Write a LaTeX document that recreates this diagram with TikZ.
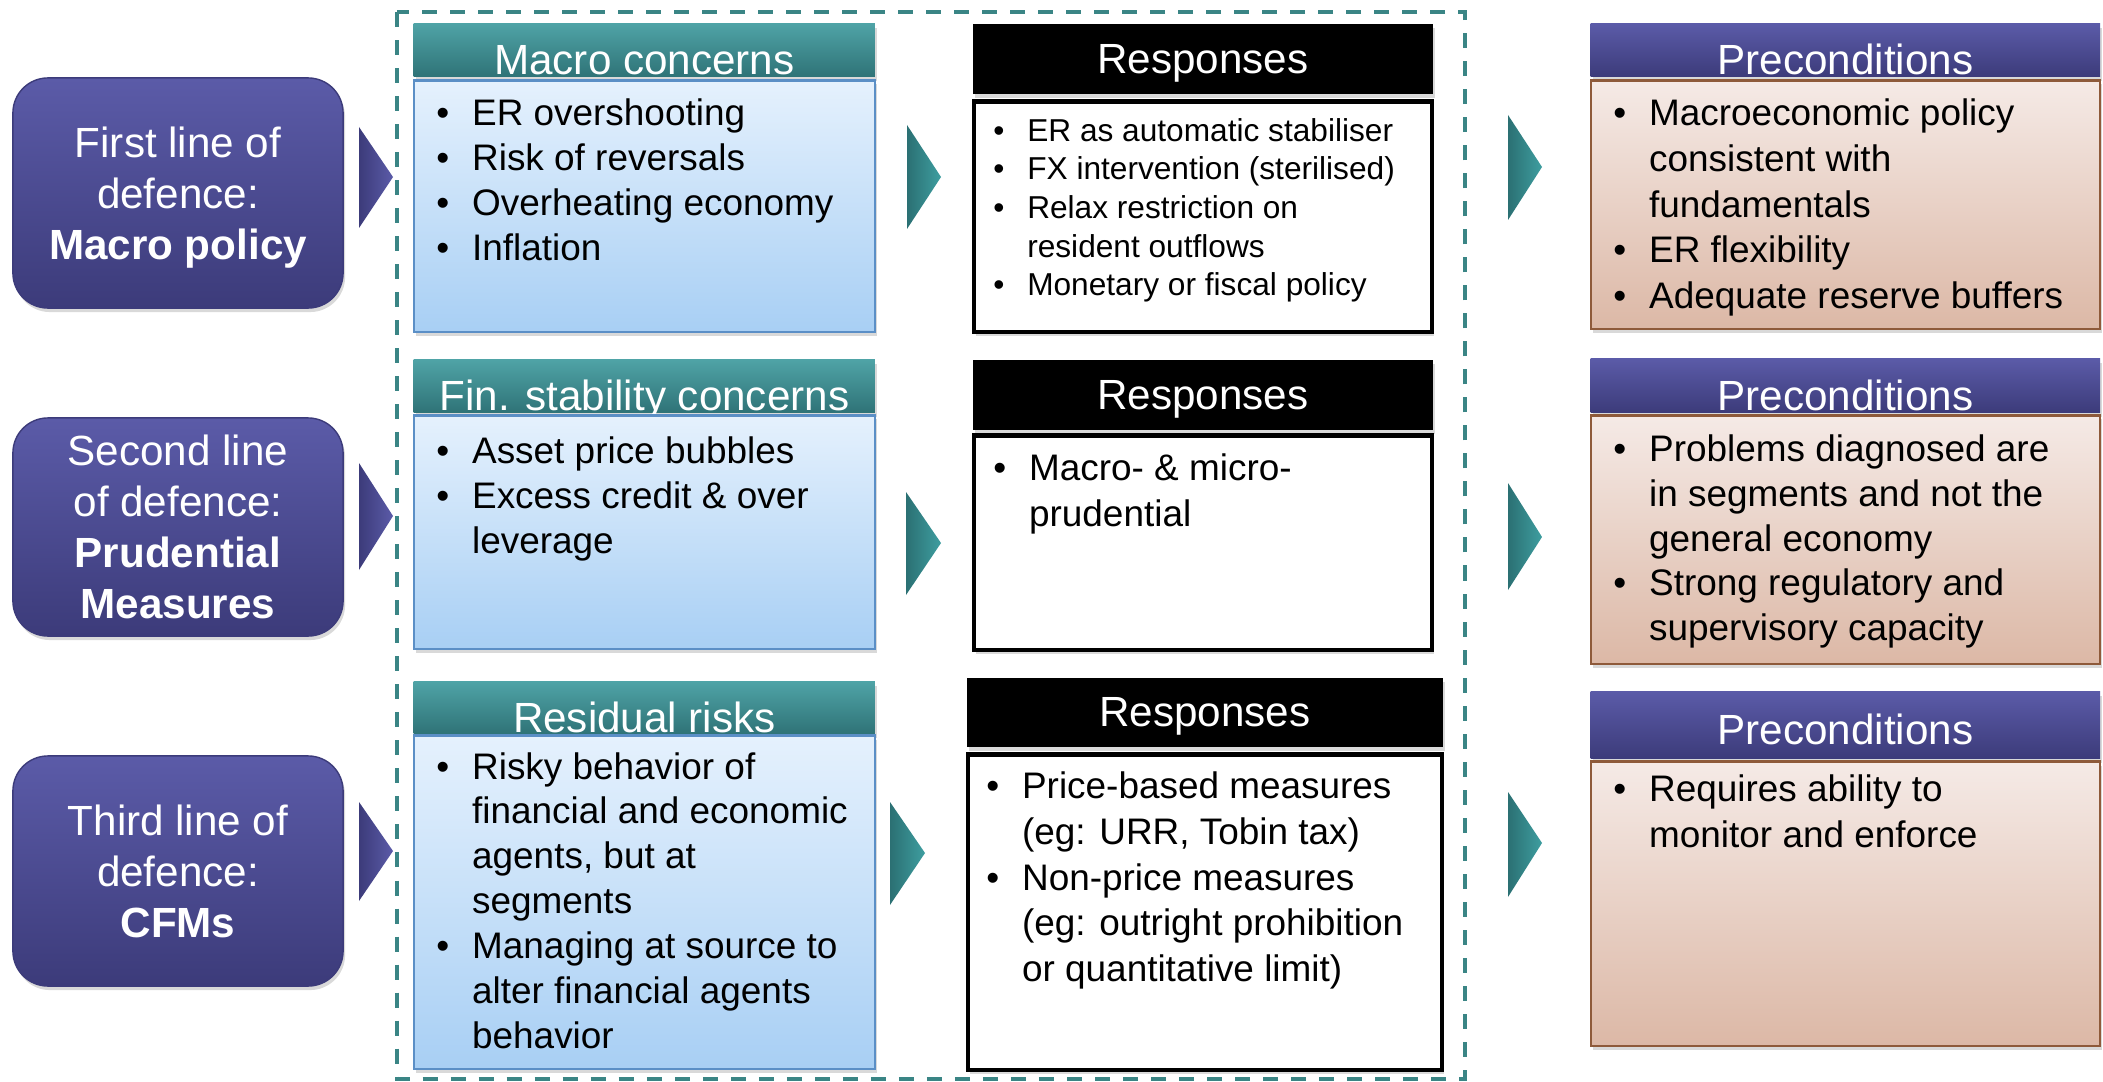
\documentclass[tikz,border=0pt]{standalone}
\usepackage{fontspec}
\setmainfont{Liberation Sans}
\usetikzlibrary{positioning,shadows}
\definecolor{navytop}{HTML}{5B5BA8}
\definecolor{navybot}{HTML}{3C3B7A}
\definecolor{tealtop}{HTML}{4FA3A6}
\definecolor{tealbot}{HTML}{2F7377}
\definecolor{bluetop}{HTML}{E5F1FD}
\definecolor{bluebot}{HTML}{A8CFF4}
\definecolor{blueline}{HTML}{5B8FC6}
\definecolor{rosetop}{HTML}{F5EAE6}
\definecolor{rosebot}{HTML}{DCB8A6}
\definecolor{roseline}{HTML}{8E5A3A}
\definecolor{dashteal}{HTML}{3A8585}
\definecolor{arrowdark}{HTML}{2B7073}
\definecolor{arrowlight}{HTML}{3E9EA0}
\tikzstyle{boxshadow}=[drop shadow={opacity=0.3,shadow xshift=0.02cm,shadow yshift=-0.04cm}]
\tikzstyle{defence}=[rectangle,rounded corners=0.35cm,top color=navytop,bottom color=navybot,draw=navybot,text=white,align=center,minimum width=3.30cm,inner sep=0pt,text depth=0pt,font=\fontsize{12}{14.5}\selectfont,boxshadow]
\tikzstyle{concernhead}=[rectangle,anchor=north west,top color=tealtop,bottom color=tealbot,text=white,minimum width=4.61cm,minimum height=0.53cm,inner sep=0pt,text height=14pt,text depth=0pt,font=\fontsize{12}{14}\selectfont,boxshadow]
\tikzstyle{concernbody}=[rectangle,top color=bluetop,bottom color=bluebot,draw=blueline,semithick,minimum width=4.61cm,inner sep=0pt,boxshadow]
\tikzstyle{resphead}=[rectangle,anchor=north west,fill=black,text=white,minimum width=4.60cm,minimum height=0.70cm,inner sep=0pt,text depth=0pt,font=\fontsize{12}{14}\selectfont,boxshadow]
\tikzstyle{respbody}=[rectangle,fill=white,draw=black,line width=1.2pt,minimum width=4.58cm,inner sep=0pt,boxshadow]
\tikzstyle{precohead}=[rectangle,anchor=north west,top color=navytop,bottom color=navybot,text=white,minimum width=5.09cm,minimum height=0.53cm,inner sep=0pt,text height=14pt,text depth=0pt,font=\fontsize{12}{14}\selectfont,boxshadow]
\tikzstyle{precobody}=[rectangle,top color=rosetop,bottom color=rosebot,draw=roseline,semithick,minimum width=5.09cm,inner sep=0pt,boxshadow]
\tikzstyle{bullets}=[anchor=north west,inner sep=0pt,align=left,font=\fontsize{10.5}{13}\selectfont]
\tikzstyle{chevnavy}=[left color=navybot,right color=navytop]
\tikzstyle{chevteal}=[left color=arrowdark,right color=arrowlight]
\tikzstyle{dashbox}=[draw=dashteal,line width=0.04cm,dash pattern=on 0.15cm off 0.13cm]
\newcommand{\bl}{\textbullet}
\newcommand{\blist}[1]{\begin{tabular}{@{}l@{\hspace{6.5pt}}l@{}}#1\end{tabular}}

\begin{document}
\begin{tikzpicture}[x=0.01cm,y=-0.01cm]
    \useasboundingbox (0,0) rectangle (2103,1082);

    % frame
    \draw[dashbox] (397,12) rectangle (1465,1079);

    % lines of defence
    \node[defence,minimum height=2.30cm] (def1) at (178,193) {First line of\\defence:\\\textbf{Macro policy}};
    \node[defence,minimum height=2.18cm] (def2) at (178,527) {Second line\\of defence:\\\textbf{Prudential}\\\textbf{Measures}};
    \node[defence,minimum height=2.30cm] (def3) at (178,871) {Third line of\\defence:\\\textbf{CFMs}};

    % concerns
    \node[concernhead] (con1) at (413,23) {Macro concerns};
    \node[concernbody,minimum height=2.51cm] (conb1) [below=0.02cm of con1] {};
    \node[concernhead] (con2) at (413,359) {Fin. stability concerns};
    \node[concernbody,minimum height=2.33cm] (conb2) [below=0.01cm of con2] {};
    \node[concernhead,minimum height=0.52cm] (con3) at (413,681) {Residual risks};
    \node[concernbody,minimum height=3.33cm] (conb3) [below=0cm of con3] {};

    % responses
    \node[resphead] (res1) at (972,23) {Responses};
    \node[respbody,minimum height=2.30cm] (resb1) [below=0.05cm of res1] {};
    \node[resphead] (res2) at (972,359) {Responses};
    \node[respbody,minimum height=2.14cm] (resb2) [below=0.03cm of res2] {};
    \node[resphead,minimum width=4.76cm,minimum height=0.69cm] (res3) at (966,677) {Responses};
    \node[respbody,minimum width=4.74cm,minimum height=3.15cm] (resb3) [below=0.05cm of res3] {};

    % preconditions
    \node[precohead] (pre1) at (1590,23) {Preconditions};
    \node[precobody,minimum height=2.48cm] (preb1) [below=0.02cm of pre1] {};
    \node[precohead,minimum height=0.54cm] (pre2) at (1590,358) {Preconditions};
    \node[precobody,minimum height=2.48cm] (preb2) [below=0.01cm of pre2] {};
    \node[precohead,minimum height=0.67cm,text height=11pt] (pre3) at (1590,691) {Preconditions};
    \node[precobody,minimum height=2.84cm] (preb3) [below=0.01cm of pre3] {};

    % texts
    \node[bullets,font=\fontsize{10.5}{12.8}\selectfont] (cont1) at ([xshift=0.23cm,yshift=-0.135cm]conb1.north west) {\blist{\bl & ER overshooting\\ \bl & Risk of reversals\\ \bl & Overheating economy\\ \bl & Inflation}};
    \node[bullets,font=\fontsize{10.5}{12.8}\selectfont] (cont2) at ([xshift=0.23cm,yshift=-0.165cm]conb2.north west) {\blist{\bl & Asset price bubbles\\ \bl & Excess credit \& over\\ & leverage}};
    \node[bullets,font=\fontsize{10.5}{12.75}\selectfont] (cont3) at ([xshift=0.23cm,yshift=-0.125cm]conb3.north west) {\blist{\bl & Risky behavior of\\ & financial and economic\\ & agents, but at\\ & segments\\ \bl & Managing at source to\\ & alter financial agents\\ & behavior}};
    \node[bullets,font=\fontsize{9}{11}\selectfont] (rest1) at ([xshift=0.21cm,yshift=-0.14cm]resb1.north west) {\blist{\bl & ER as automatic stabiliser\\ \bl & FX intervention (sterilised)\\ \bl & Relax restriction on\\ & resident outflows\\ \bl & Monetary or fiscal policy}};
    \node[bullets] (rest2) at ([xshift=0.21cm,yshift=-0.145cm]resb2.north west) {\blist{\bl & Macro- \& micro-\\ & prudential}};
    \node[bullets] (rest3) at ([xshift=0.20cm,yshift=-0.135cm]resb3.north west) {\blist{\bl & Price-based measures\\ & (eg: URR, Tobin tax)\\ \bl & Non-price measures\\ & (eg: outright prohibition\\ & or quantitative limit)}};
    \node[bullets] (pret1) at ([xshift=0.23cm,yshift=-0.135cm]preb1.north west) {\blist{\bl & Macroeconomic policy\\ & consistent with\\ & fundamentals\\ \bl & ER flexibility\\ \bl & Adequate reserve buffers}};
    \node[bullets,font=\fontsize{10.5}{12.7}\selectfont] (pret2) at ([xshift=0.23cm,yshift=-0.155cm]preb2.north west) {\blist{\bl & Problems diagnosed are\\ & in segments and not the\\ & general economy\\ \bl & Strong regulatory and\\ & supervisory capacity}};
    \node[bullets] (pret3) at ([xshift=0.23cm,yshift=-0.085cm]preb3.north west) {\blist{\bl & Requires ability to\\ & monitor and enforce}};

    % chevrons
    \shade[chevnavy] (359,127) -- (393,177) -- (359,228) -- cycle;
    \shade[chevnavy] (359,463) -- (393,516) -- (359,570) -- cycle;
    \shade[chevnavy] (359,802) -- (393,851) -- (359,901) -- cycle;
    \shade[chevteal] (907,125) -- (941,177) -- (907,229) -- cycle;
    \shade[chevteal] (906,492) -- (941,543) -- (906,595) -- cycle;
    \shade[chevteal] (890,802) -- (925,853) -- (890,905) -- cycle;
    \shade[chevteal] (1508,115) -- (1542,167) -- (1508,220) -- cycle;
    \shade[chevteal] (1508,483) -- (1542,537) -- (1508,590) -- cycle;
    \shade[chevteal] (1508,792) -- (1542,843) -- (1508,897) -- cycle;

\end{tikzpicture}
\end{document}
